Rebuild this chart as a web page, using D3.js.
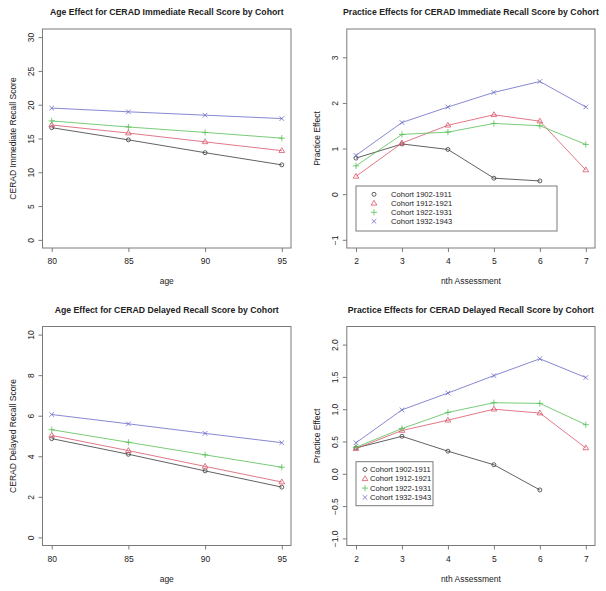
<!DOCTYPE html>
<html><head><meta charset="utf-8">
<script src="https://cdn.jsdelivr.net/npm/d3@7"></script>
<style>
html,body{margin:0;padding:0;background:#fff;}
svg{display:block;font-family:Arial,"Liberation Sans",sans-serif;}
</style></head>
<body>
<svg id="c" width="606" height="591"></svg>
<script>
// ---------- data ----------
const cohorts = ["Cohort 1902-1911", "Cohort 1912-1921", "Cohort 1922-1931", "Cohort 1932-1943"];
const ages = [80, 85, 90, 95];
const assessments = [2, 3, 4, 5, 6, 7];

// Age effect, CERAD immediate recall (per cohort, at ages 80..95)
const immAge1902 = [16.6, 14.8, 12.9, 11.1];
const immAge1912 = [17.0, 15.8, 14.5, 13.2];
const immAge1922 = [17.6, 16.7, 15.9, 15.05];
const immAge1932 = [19.5, 18.95, 18.45, 17.95];

// Practice effects, CERAD immediate recall (assessments 2..7)
const immPr1902 = [0.79, 1.10, 0.98, 0.35, 0.29, null];
const immPr1912 = [0.39, 1.12, 1.51, 1.74, 1.60, 0.53];
const immPr1922 = [0.62, 1.31, 1.36, 1.55, 1.50, 1.09];
const immPr1932 = [0.85, 1.57, 1.91, 2.23, 2.47, 1.91];

// Age effect, CERAD delayed recall
const delAge1902 = [4.87, 4.10, 3.28, 2.48];
const delAge1912 = [5.03, 4.28, 3.50, 2.73];
const delAge1922 = [5.31, 4.69, 4.07, 3.46];
const delAge1932 = [6.06, 5.60, 5.13, 4.67];

// Practice effects, CERAD delayed recall
const delPr1902 = [0.40, 0.58, 0.35, 0.14, -0.25, null];
const delPr1912 = [0.39, 0.67, 0.83, 1.00, 0.94, 0.40];
const delPr1922 = [0.41, 0.70, 0.95, 1.10, 1.09, 0.76];
const delPr1932 = [0.48, 0.99, 1.25, 1.52, 1.78, 1.49];

const ticksImmAge = [0, 5, 10, 15, 20, 25, 30];
const ticksImmPr = [-1, 0, 1, 2, 3];
const ticksDelAge = [0, 2, 4, 6, 8, 10];
const ticksDelPr = [-1.0, -0.5, 0.0, 0.5, 1.0, 1.5, 2.0];

// ---------- styles ----------
const colors = ["#3a3a3a", "#d9566a", "#55bf55", "#6a6ac8"];
const shapes = ["circle", "triangle", "plus", "cross"];
const boxColor = "#7a7a7a";
const textColor = "#222";
const FONT = "Arial, 'Liberation Sans', sans-serif";

const svg = d3.select("#c");

function marker(g, shape, x, y, color) {
  if (shape === "circle") {
    g.append("circle").attr("cx", x).attr("cy", y).attr("r", 2.0)
      .attr("fill", "none").attr("stroke", color).attr("stroke-width", 0.8);
  } else if (shape === "triangle") {
    const s = 3.0;
    g.append("path").attr("d", `M${x},${y - s}L${x + s * 0.95},${y + s * 0.6}L${x - s * 0.95},${y + s * 0.6}Z`)
      .attr("fill", "none").attr("stroke", color).attr("stroke-width", 0.8);
  } else if (shape === "plus") {
    const s = 3.1;
    g.append("path").attr("d", `M${x - s},${y}H${x + s}M${x},${y - s}V${y + s}`)
      .attr("stroke", color).attr("stroke-width", 0.8);
  } else {
    const s = 2.3;
    g.append("path").attr("d", `M${x - s},${y - s}L${x + s},${y + s}M${x - s},${y + s}L${x + s},${y - s}`)
      .attr("stroke", color).attr("stroke-width", 0.8);
  }
}

function panel(o) {
  const g = svg.append("g");
  const x = d3.scaleLinear().domain(o.xDomain).range([o.box.x0, o.box.x1]);
  const y = d3.scaleLinear().domain(o.yDomain).range([o.box.y1, o.box.y0]);

  // box
  g.append("rect").attr("x", o.box.x0).attr("y", o.box.y0)
    .attr("width", o.box.x1 - o.box.x0).attr("height", o.box.y1 - o.box.y0)
    .attr("fill", "none").attr("stroke", boxColor).attr("stroke-width", 1);

  // x axis
  const xa = g.append("g").attr("transform", `translate(0,${o.box.y1})`)
    .call(d3.axisBottom(x).tickValues(o.xTicks).tickFormat(d3.format("d"))
      .tickSize(4).tickPadding(6).tickSizeOuter(0));
  xa.select(".domain").remove();
  xa.selectAll("line").attr("stroke", boxColor);
  xa.selectAll("text").attr("font-size", 8.5).attr("fill", textColor).attr("font-family", FONT);

  // y axis
  const ya = g.append("g").attr("transform", `translate(${o.box.x0},0)`)
    .call(d3.axisLeft(y).tickValues(o.yTicks).tickSize(4).tickSizeOuter(0).tickFormat(o.yFormat));
  ya.select(".domain").remove();
  ya.selectAll("line").attr("stroke", boxColor);
  ya.selectAll("text")
    .attr("font-size", 8.5).attr("fill", textColor).attr("font-family", FONT)
    .attr("x", null).attr("dy", null)
    .attr("text-anchor", "middle")
    .attr("transform", "translate(-9,0) rotate(-90)")
    .attr("y", 0);

  // titles
  const cx = (o.box.x0 + o.box.x1) / 2;
  g.append("text").attr("x", cx).attr("y", o.box.y0 - 14)
    .attr("text-anchor", "middle").attr("font-weight", "bold").attr("font-size", 8.7)
    .attr("fill", textColor).text(o.title);
  g.append("text").attr("x", cx).attr("y", o.box.y1 + 36)
    .attr("text-anchor", "middle").attr("font-size", 8.5).attr("fill", textColor).text(o.xLabel);
  const cy = (o.box.y0 + o.box.y1) / 2;
  g.append("text").attr("transform", `translate(${o.box.x0 - 27},${cy}) rotate(-90)`)
    .attr("text-anchor", "middle").attr("font-size", 8.5).attr("fill", textColor).text(o.yLabel);

  // series
  const line = d3.line().defined(d => d.v != null).x(d => x(d.x)).y(d => y(d.v));
  o.series.forEach((vals, i) => {
    const pts = o.xValues.map((xv, j) => ({ x: xv, v: vals[j] }));
    g.append("path").datum(pts).attr("d", line)
      .attr("fill", "none").attr("stroke", colors[i]).attr("stroke-width", 0.8);
    pts.filter(d => d.v != null).forEach(d => marker(g, shapes[i], x(d.x), y(d.v), colors[i]));
  });

  // legend
  if (o.legend) {
    const L = o.legend;
    const lg = g.append("g");
    lg.append("rect").attr("x", L.x0).attr("y", L.y0).attr("width", L.x1 - L.x0).attr("height", L.y1 - L.y0)
      .attr("fill", "#fff").attr("stroke", boxColor).attr("stroke-width", 1);
    cohorts.forEach((c, i) => {
      const yy = L.rowY0 + i * L.rowH;
      marker(lg, shapes[i], L.symX, yy, colors[i]);
      lg.append("text").attr("x", L.textX).attr("y", yy).attr("dy", "0.35em")
        .attr("font-size", 7.6).attr("fill", textColor).text(c);
    });
  }
}

panel({
  box: { x0: 42.5, x1: 291, y0: 29, y1: 248 },
  xDomain: [79.4, 95.6], yDomain: [-1.2, 31.2],
  xTicks: ages, yTicks: ticksImmAge, yFormat: d3.format("d"),
  xValues: ages, series: [immAge1902, immAge1912, immAge1922, immAge1932],
  title: "Age Effect for CERAD Immediate Recall Score by Cohort",
  xLabel: "age", yLabel: "CERAD Immediate Recall Score"
});
panel({
  box: { x0: 346.8, x1: 595, y0: 29, y1: 248 },
  xDomain: [1.8, 7.2], yDomain: [-1.18, 3.62],
  xTicks: assessments, yTicks: ticksImmPr, yFormat: d3.format("d"),
  xValues: assessments, series: [immPr1902, immPr1912, immPr1922, immPr1932],
  title: "Practice Effects for CERAD Immediate Recall Score by Cohort",
  xLabel: "nth Assessment", yLabel: "Practice Effect",
  legend: { x0: 356, x1: 557, y0: 186, y1: 231, symX: 374, textX: 391, rowY0: 194.3, rowH: 9 }
});
panel({
  box: { x0: 42.5, x1: 291, y0: 326.5, y1: 545.5 },
  xDomain: [79.4, 95.6], yDomain: [-0.4, 10.4],
  xTicks: ages, yTicks: ticksDelAge, yFormat: d3.format("d"),
  xValues: ages, series: [delAge1902, delAge1912, delAge1922, delAge1932],
  title: "Age Effect for CERAD Delayed Recall Score by Cohort",
  xLabel: "age", yLabel: "CERAD Delayed Recall Score"
});
panel({
  box: { x0: 346.8, x1: 595, y0: 326.5, y1: 545.5 },
  xDomain: [1.8, 7.2], yDomain: [-1.11, 2.28],
  xTicks: assessments, yTicks: ticksDelPr, yFormat: d3.format(".1f"),
  xValues: assessments, series: [delPr1902, delPr1912, delPr1922, delPr1932],
  title: "Practice Effects for CERAD Delayed Recall Score by Cohort",
  xLabel: "nth Assessment", yLabel: "Practice Effect",
  legend: { x0: 356, x1: 433, y0: 461.7, y1: 505.7, symX: 365, textX: 370, rowY0: 469.5, rowH: 9.3 }
});
</script>
</body></html>
